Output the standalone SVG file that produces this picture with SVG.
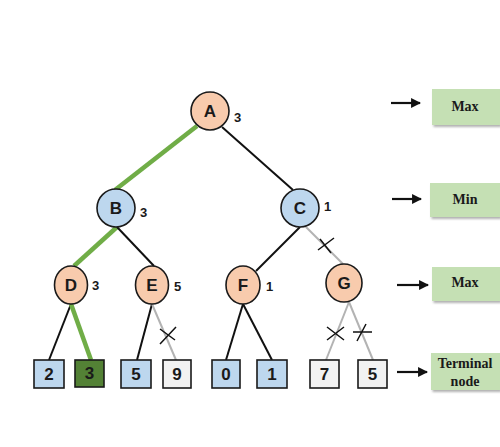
<svg xmlns="http://www.w3.org/2000/svg" width="500" height="447" viewBox="0 0 500 447">
<defs>
<style>
.max{fill:#f8cbad;stroke:#1a1a1a;stroke-width:1.6}
.min{fill:#bdd7ee;stroke:#1a1a1a;stroke-width:1.6}
.lbl{font-family:"Liberation Sans",Arial,sans-serif;font-weight:bold;font-size:17px;fill:#1a1a1a;text-anchor:middle}
.val{font-family:"Liberation Sans",Arial,sans-serif;font-weight:bold;font-size:13px;fill:#1a1a1a}
.leaf{stroke:#1a1a1a;stroke-width:1.6}
.blue{fill:#bdd7ee}
.gray{fill:#f2f2f2}
.dg{fill:#538135}
.blk{stroke:#111;stroke-width:2;fill:none}
.grn{stroke:#70ad47;stroke-width:4.5;fill:none}
.gry{stroke:#b3b3b3;stroke-width:2;fill:none}
.x{stroke:#111;stroke-width:1.5;fill:none}
.tag{fill:#c5e0b4}
.tagt{font-family:"Liberation Serif","Times New Roman",serif;font-weight:bold;font-size:14px;fill:#1a1a1a;text-anchor:middle}
.arr{stroke:#111;stroke-width:2.2}
</style>
<marker id="ah" viewBox="0 0 10 10" refX="9" refY="5" markerWidth="4.5" markerHeight="4.5" orient="auto" markerUnits="strokeWidth">
<path d="M0,0 L10,5 L0,10 z" fill="#111"/>
</marker>
<filter id="sh" x="-10%" y="-10%" width="130%" height="140%">
<feDropShadow dx="1.5" dy="2" stdDeviation="1" flood-color="#000" flood-opacity="0.3"/>
</filter>
</defs>
<rect width="500" height="447" fill="#fff"/>
<g id="connectors">
<line class="grn" x1="197" y1="126" x2="115" y2="190"/>
<line class="blk" x1="222" y1="127" x2="293" y2="190"/>
<line class="grn" x1="117" y1="227" x2="74" y2="266"/>
<line class="blk" x1="117" y1="227" x2="154" y2="266"/>
<line class="blk" x1="300" y1="227" x2="256" y2="271"/>
<line class="gry" x1="305" y1="226" x2="343" y2="264"/>
<line class="blk" x1="71" y1="304" x2="49" y2="360"/>
<line class="grn" x1="71" y1="304" x2="91" y2="360"/>
<line class="blk" x1="152" y1="304" x2="137" y2="360"/>
<line class="gry" x1="152" y1="304" x2="176" y2="360"/>
<line class="blk" x1="243" y1="304" x2="226" y2="360"/>
<line class="blk" x1="243" y1="304" x2="272" y2="360"/>
<line class="gry" x1="349" y1="302" x2="326" y2="360"/>
<line class="gry" x1="349" y1="302" x2="373" y2="360"/>
<path class="x" d="M160,344 L176,327 M160,329 L175,340"/>
<path class="x" d="M318,250 L334,238 M320,239 L331,253"/>
<path class="x" d="M327,340 L344,327 M327,327 L344,340"/>
<path class="x" d="M353,332 L372,332 M357,341 L366,324"/>
</g>
<g id="node-A"><circle class="max" cx="210" cy="111" r="19"/><text class="lbl" x="210" y="117">A</text><text class="val" x="234" y="122">3</text></g>
<g id="node-B"><circle class="min" cx="116" cy="208" r="19"/><text class="lbl" x="116" y="214">B</text><text class="val" x="140" y="217">3</text></g>
<g id="node-C"><circle class="min" cx="300" cy="208" r="19"/><text class="lbl" x="300" y="214">C</text><text class="val" x="324" y="211">1</text></g>
<g id="node-D"><ellipse class="max" cx="71" cy="285" rx="16.5" ry="19"/><text class="lbl" x="71" y="291">D</text><text class="val" x="92" y="290">3</text></g>
<g id="node-E"><ellipse class="max" cx="152" cy="285" rx="16.5" ry="19"/><text class="lbl" x="152" y="291">E</text><text class="val" x="174" y="291">5</text></g>
<g id="node-F"><ellipse class="max" cx="243" cy="285" rx="17" ry="19"/><text class="lbl" x="243" y="291">F</text><text class="val" x="266" y="291">1</text></g>
<g id="node-G"><ellipse class="max" cx="344" cy="283" rx="18" ry="19"/><text class="lbl" x="344" y="289">G</text></g>
<g id="leaf-2"><rect class="leaf blue" x="34" y="360" width="30" height="28"/><text class="lbl" x="49" y="380">2</text></g>
<g id="leaf-3"><rect class="leaf dg" x="75" y="360" width="29" height="27"/><text class="lbl" x="89.5" y="379">3</text></g>
<g id="leaf-5a"><rect class="leaf blue" x="121" y="360" width="30" height="28"/><text class="lbl" x="136" y="380">5</text></g>
<g id="leaf-9"><rect class="leaf gray" x="163" y="360" width="28" height="28"/><text class="lbl" x="177" y="380">9</text></g>
<g id="leaf-0"><rect class="leaf blue" x="212" y="360" width="28" height="28"/><text class="lbl" x="226" y="380">0</text></g>
<g id="leaf-1"><rect class="leaf blue" x="257" y="360" width="30" height="28"/><text class="lbl" x="272" y="380">1</text></g>
<g id="leaf-7"><rect class="leaf gray" x="310" y="360" width="29" height="28"/><text class="lbl" x="324.5" y="380">7</text></g>
<g id="leaf-5b"><rect class="leaf gray" x="358" y="360" width="29" height="28"/><text class="lbl" x="372.5" y="380">5</text></g>
<g id="legend-max1"><line class="arr" x1="391" y1="103" x2="420" y2="103" marker-end="url(#ah)"/><rect class="tag" x="432" y="89" width="68" height="36" filter="url(#sh)"/><text class="tagt" x="465" y="111">Max</text></g>
<g id="legend-min"><line class="arr" x1="392" y1="199" x2="421" y2="199" marker-end="url(#ah)"/><rect class="tag" x="430" y="183" width="70" height="34" filter="url(#sh)"/><text class="tagt" x="465" y="204">Min</text></g>
<g id="legend-max2"><line class="arr" x1="397" y1="285" x2="428" y2="285" marker-end="url(#ah)"/><rect class="tag" x="432" y="267" width="68" height="34" filter="url(#sh)"/><text class="tagt" x="465" y="287">Max</text></g>
<g id="legend-terminal"><line class="arr" x1="397" y1="372" x2="427" y2="372" marker-end="url(#ah)"/><rect class="tag" x="431" y="353" width="69" height="37" filter="url(#sh)"/><text class="tagt" x="465" y="368">Terminal</text><text class="tagt" x="465" y="386">node</text></g>
</svg>
